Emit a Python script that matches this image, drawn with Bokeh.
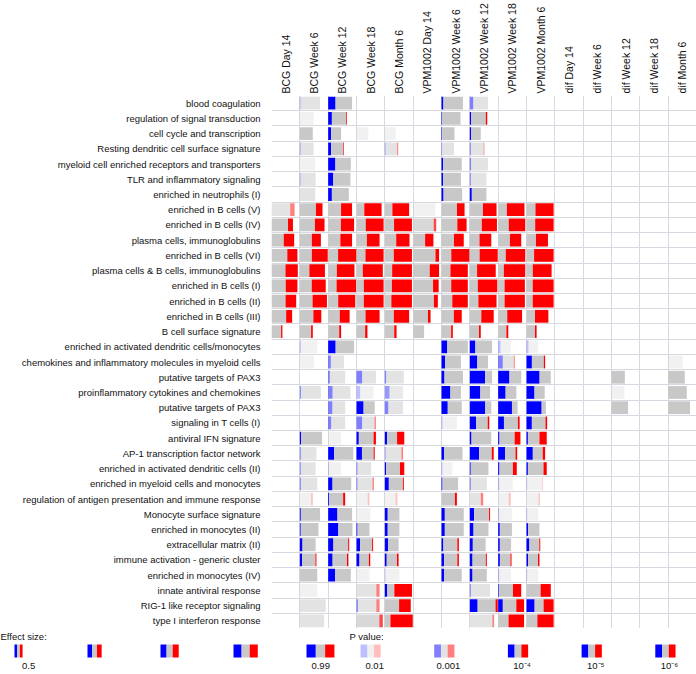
import math
from bokeh.plotting import figure
from bokeh.models import FixedTicker, Range1d, ColumnDataSource
from bokeh.embed import file_html
from bokeh.resources import INLINE
from bokeh.core.properties import value

_ = None

CONTRASTS = ["BCG Day 14", "BCG Week 6", "BCG Week 12", "BCG Week 18", "BCG Month 6",
             "VPM1002 Day 14", "VPM1002 Week 6", "VPM1002 Week 12", "VPM1002 Week 18",
             "VPM1002 Month 6", "dif Day 14", "dif Week 6", "dif Week 12", "dif Week 18",
             "dif Month 6"]

MODULES = [
    "blood coagulation",
    "regulation of signal transduction",
    "cell cycle and transcription",
    "Resting dendritic cell surface signature",
    "myeloid cell enriched receptors and transporters",
    "TLR and inflammatory signaling",
    "enriched in neutrophils (I)",
    "enriched in B cells (V)",
    "enriched in B cells (IV)",
    "plasma cells, immunoglobulins",
    "enriched in B cells (VI)",
    "plasma cells & B cells, immunoglobulins",
    "enriched in B cells (I)",
    "enriched in B cells (II)",
    "enriched in B cells (III)",
    "B cell surface signature",
    "enriched in activated dendritic cells/monocytes",
    "chemokines and inflammatory molecules in myeloid cells",
    "putative targets of PAX3",
    "proinflammatory cytokines and chemokines",
    "putative targets of PAX3",
    "signaling in T cells (I)",
    "antiviral IFN signature",
    "AP-1 transcription factor network",
    "enriched in activated dendritic cells (II)",
    "enriched in myeloid cells and monocytes",
    "regulation of antigen presentation and immune response",
    "Monocyte surface signature",
    "enriched in monocytes (II)",
    "extracellular matrix (II)",
    "immune activation - generic cluster",
    "enriched in monocytes (IV)",
    "innate antiviral response",
    "RIG-1 like receptor signaling",
    "type I interferon response",
]

# effect size (AUC) per module (rows) and contrast (columns); None = not shown
AUC = [
    [_, .80, .89, _, _, _, .83, .75],
    [_, .64, .76, _, _, _, .77, .73],
    [_, .62, .62, .59, .57, _, .62, .57],
    [_, .64, .69, _, .63, _, .61, .66],
    [_, .68, .86, _, _, _, .80, .75],
    [_, .69, .85, _, _, _, .78, .71],
    [_, .68, .81, _, _, _, .81, .71],
    [.87, .86, .89, .92, .90, .85, .87, .96, .95, .97],
    [.83, .91, .94, .97, .97, .87, .92, .97, .97, .97],
    [.86, .82, .89, .87, .91, .80, .85, .83, .87, .83],
    [.94, .99, 1.0, .97, .97, .94, .99, .99, .97, .97],
    [.95, .92, .95, .95, .97, .94, .95, .94, .97, .92],
    [.94, .94, .99, .97, .97, .93, .95, .98, .96, .97],
    [.91, .97, .97, .97, .97, .91, .95, .96, .96, .97],
    [.81, .83, .83, .87, .90, .73, .80, .89, .89, .84],
    [.57, .62, .62, .57, .59, .57, .58, .57, .55, .55],
    [_, .73, .94, _, _, _, .95, .85, .61, .58],
    [_, .65, .69, _, _, _, .78, .75, .71, .76, _, _, _, _, .66],
    [_, _, .72, .78, .77, _, .83, .85, .87, .90, _, _, .63, _, .71],
    [_, .82, .85, .72, .75, _, .78, .80, .75, .75, _, _, .62, _, .76],
    [_, _, .72, .75, .75, _, .80, .83, .78, .78, _, _, .71, _, .84],
    [_, _, .72, .78, _, _, .68, .78, .83, .81],
    [_, .85, .62, .78, .78, _, _, .83, .85, .80],
    [_, .71, .92, .75, .75, _, .82, .89, .77, .76],
    [_, .69, .62, .66, .78, _, .57, .76, .76, .80],
    [_, .73, .87, .73, .77, _, .71, .72, .66, .71],
    [_, .62, .72, .62, .61, _, .68, .63, .61, .63],
    [_, .80, .89, .64, .66, _, .85, .80, .64, .59],
    [_, .76, .90, .62, .66, _, .85, .76, .64, .62],
    [_, .69, .82, .71, .64, _, .73, .69, .62, .64],
    [_, .71, .80, .64, .64, _, .73, .72, .63, .62],
    [_, .73, .86, .62, .66, _, .80, .72, .62, .59],
    [_, .73, _, .87, .97, _, _, .80, .87, .90],
    [_, .94, _, .87, .94, _, _, .99, .94, .97],
    [_, .90, _, .95, .99, _, _, .90, .94, .97],
]

# fraction of module genes that are down-regulated
DOWN = [
    [0, .03, .31, 0, 0, 0, .09, .19],
    [0, 0, .20, 0, 0, 0, .04, .08],
    [0, 0, .23, 0, 0, 0, .05, .13],
    [0, .05, .19, 0, .05, 0, .05, .07],
    [0, 0, .32, 0, 0, 0, .08, .07],
    [0, .04, .23, 0, 0, 0, .08, .06],
    [0, 0, .18, 0, 0, 0, .10, .12],
    [], [], [], [], [], [], [], [], [],
    [0, .06, .29, 0, 0, 0, .22, .25, .19, .18],
    [0, 0, .17, 0, 0, 0, .19, .41, .28, .29],
    [0, 0, .10, .29, .07, 0, .14, .69, .49, .54],
    [0, .05, .20, .22, .26, 0, .46, .52, .41, .44],
    [0, 0, .25, .39, .19, 0, .31, .72, .71, .78],
    [0, 0, .18, .29, 0, 0, .07, .32, .27, .26],
    [0, .06, 0, .12, .12, 0, 0, .08, .06, .07],
    [0, .06, .24, .30, .04, 0, .13, .39, .37, .34],
    [0, .06, .05, .07, .07, 0, .09, .05, .07, .07],
    [0, .06, .19, .06, .21, 0, .06, .06, .07, .04],
    [0, 0, .06, 0, 0, 0, 0, 0, 0, 0],
    [0, .05, .39, 0, .20, 0, .15, .21, .07, .06],
    [0, .05, .42, .08, .20, 0, .15, .20, .12, .13],
    [0, .17, .25, .22, .24, 0, .11, .19, .13, .21],
    [0, .14, .22, .22, .14, 0, .15, .16, .13, .13],
    [0, 0, .31, 0, .05, 0, .13, .16, .08, .06],
    [0, 0, 0, 0, .09, 0, 0, .05, .03, 0],
    [0, 0, 0, .06, 0, 0, 0, .28, .18, .30],
    [],
]

# fraction of module genes that are up-regulated
UP = [
    [],
    [0, 0, .04, 0, 0, 0, 0, .08],
    [],
    [0, 0, .04, 0, .08, 0, 0, .05],
    [], [], [],
    [.19, .29, .46, .69, .69, 0, .33, .51, .67, .67],
    [.23, .39, .51, .66, .66, .11, .37, .56, .61, .68],
    [.46, .43, .49, .55, .54, .41, .44, .55, .49, .56],
    [.39, .57, .65, .67, .67, .14, .65, .65, .72, .72],
    [.47, .62, .67, .76, .73, .36, .66, .72, .79, .75],
    [.45, .54, .70, .73, .74, .22, .63, .71, .76, .77],
    [.43, .53, .63, .73, .76, .16, .59, .68, .76, .77],
    [.29, .37, .46, .61, .63, .15, .39, .52, .62, .61],
    [.12, .13, .15, .21, .20, 0, .15, .16, .19, .16],
    [],
    [0, 0, 0, 0, 0, 0, 0, 0, .06, .07],
    [], [], [],
    [0, 0, 0, .07, 0, 0, 0, .08, .08, .08],
    [0, 0, 0, .12, .37, 0, 0, 0, .26, .36],
    [0, 0, 0, .06, .09, 0, 0, .08, .09, .13],
    [0, 0, 0, 0, .22, 0, 0, 0, .21, .16],
    [0, 0, 0, .08, .05, 0, 0, 0, 0, .04],
    [0, .13, .12, .13, .14, 0, .13, .18, .16, .10],
    [0, 0, 0, 0, 0, 0, 0, .05, 0, 0],
    [],
    [0, 0, .05, .06, 0, 0, .09, 0, 0, .07],
    [0, .06, .07, .10, .12, 0, .09, .06, .08, .11],
    [],
    [0, 0, 0, .14, .65, 0, 0, 0, .36, .42],
    [0, 0, 0, .14, .45, 0, 0, .08, .30, .37],
    [0, 0, 0, .13, .80, 0, 0, .07, .60, .60],
]

# p values
PVAL = [
    [_, 1e-3, 1e-5, _, _, _, 1e-5, 1e-3],
    [_, 1e-2, 1e-5, _, _, _, 1e-5, 1e-5],
    [_, 1e-5, 1e-5, 1e-2, 1e-2, _, 1e-5, 1e-5],
    [_, 1e-3, 1e-5, _, 1e-3, _, 1e-3, 1e-3],
    [_, 1e-2, 1e-5, _, _, _, 1e-5, 1e-3],
    [_, 1e-3, 1e-5, _, _, _, 1e-5, 1e-3],
    [_, 1e-3, 1e-5, _, _, _, 1e-5, 1e-5],
    [1e-3, 1e-5, 1e-5, 1e-5, 1e-5, 1e-2, 1e-5, 1e-5, 1e-5, 1e-5],
    [1e-4, 1e-5, 1e-5, 1e-5, 1e-5, 3e-4, 1e-5, 1e-5, 1e-5, 1e-5],
    [1e-5] * 10, [1e-5] * 10, [1e-5] * 10, [1e-5] * 10, [1e-5] * 10, [1e-5] * 10, [1e-5] * 10,
    [_, 1e-2, 1e-5, _, _, _, 1e-5, 1e-5, 1e-2, 1e-2],
    [_, 1e-2, 1e-3, _, _, _, 1e-5, 1e-5, 1e-3, 1e-5, _, _, _, _, 1e-2],
    [_, _, 1e-3, 1e-3, 1e-3, _, 1e-5, 1e-5, 1e-5, 1e-5, _, _, 1e-5, _, 1e-5],
    [_, 1e-3, 1e-3, 1e-2, 2e-3, _, 1e-5, 1e-5, 1e-5, 1e-5, _, _, 1e-2, _, 1e-5],
    [_, _, 1e-3, 1e-5, 1e-3, _, 1e-5, 1e-5, 1e-5, 1e-5, _, _, 1e-5, _, 1e-5],
    [_, _, 1e-3, 1e-3, _, _, 1e-2, 1e-5, 1e-5, 1e-5],
    [_, 1e-5, 1e-2, 1e-5, 1e-5, _, _, 1e-5, 1e-5, 1e-5],
    [_, 1e-3, 1e-5, 1e-5, 1e-3, _, 1e-5, 1e-5, 1e-5, 1e-5],
    [_, 1e-3, 1e-2, 1e-3, 1e-5, _, 1e-2, 1e-5, 1e-5, 1e-5],
    [_, 1e-3, 1e-5, 1e-3, 1e-5, _, 1e-5, 1e-3, 1e-2, 1e-2],
    [_, 1e-2, 1e-5, 1e-2, 1e-2, _, 1e-5, 1e-3, 1e-2, 1e-2],
    [_, 1e-5, 1e-5, 1e-2, 1e-5, _, 1e-5, 1e-5, 1e-2, 1e-2],
    [_, 1e-5, 1e-5, 1e-5, 1e-5, _, 1e-5, 1e-5, 1e-5, 1e-5],
    [_, 1e-5, 1e-5, 1e-5, 1e-5, _, 1e-5, 1e-5, 1e-5, 1e-5],
    [_, 1e-5, 1e-5, 1e-5, 1e-5, _, 1e-5, 1e-5, 1e-5, 1e-5],
    [_, 1e-5, 1e-5, 1e-2, 1e-2, _, 1e-5, 1e-5, 1e-2, 1e-2],
    [_, 1e-2, _, 1e-3, 1e-5, _, _, 1e-3, 1e-4, 1e-5],
    [_, 1e-3, _, 1e-3, 1e-5, _, _, 1e-5, 1e-5, 1e-5],
    [_, 1e-3, _, 3e-4, 1e-5, _, _, 1e-3, 1e-5, 1e-5],
]

LEGEND_AUC = [0.5, 0.65, 0.75, 0.9, 0.99]
LEGEND_AUC_LABELS = ["0.5", "", "", "", "0.99"]
LEGEND_P = [1e-2, 1e-3, 1e-4, 1e-5, 1e-6]
LEGEND_P_LABELS = ["0.01", "0.001", "10\u207b\u2074", "10\u207b\u2075", "10\u207b\u2076"]

# ---------------------------------------------------------------- styling
BLUE, GRAY, RED = "#0000ff", "#c8c8c8", "#ff0000"
FONT = "Liberation Sans"
GRID = "#d8d8e0"
BAR_H = 0.84
FIG_W = 696
LEFT = 271


def cell(table, r, c):
    row = table[r]
    return row[c] if c < len(row) else None


def bar_frac(auc):
    return (auc - 0.3) / 0.7


def alpha_of(p):
    return min(1.0, 2 ** (-math.log10(p) - 4))


n_rows, n_cols = len(MODULES), len(CONTRASTS)

src = dict(left=[], right=[], top=[], bottom=[], color=[], alpha=[])
for r in range(n_rows):
    for c in range(n_cols):
        auc = cell(AUC, r, c)
        if auc is None:
            continue
        d = cell(DOWN, r, c) or 0.0
        u = cell(UP, r, c) or 0.0
        pv = cell(PVAL, r, c) or 1e-5
        f = bar_frac(auc)
        x0 = c - 0.5
        cuts = [x0, x0 + f * d, x0 + f * (1 - u), x0 + f]
        for a, b, col in zip(cuts[:-1], cuts[1:], (BLUE, GRAY, RED)):
            if b - a > 1e-6:
                src["left"].append(a)
                src["right"].append(b)
                src["top"].append(r - BAR_H / 2)
                src["bottom"].append(r + BAR_H / 2)
                src["color"].append(col)
                src["alpha"].append(alpha_of(pv))

p = figure(width=FIG_W, height=628, output_backend="svg", toolbar_location=None,
           x_range=Range1d(-0.5, n_cols - 0.5), y_range=Range1d(n_rows - 0.5, -0.5),
           x_axis_location="above", min_border_left=LEFT, min_border_right=0,
           min_border_top=0, min_border_bottom=0)
p.outline_line_color = None
p.background_fill_color = "white"

p.quad(left="left", right="right", top="top", bottom="bottom", fill_color="color",
       fill_alpha="alpha", line_color=None, source=ColumnDataSource(src))

p.xaxis.ticker = FixedTicker(ticks=list(range(n_cols)))
p.xaxis.major_label_overrides = {i: n for i, n in enumerate(CONTRASTS)}
p.xaxis.major_label_orientation = math.pi / 2
p.yaxis.ticker = FixedTicker(ticks=list(range(n_rows)))
p.yaxis.major_label_overrides = {i: n for i, n in enumerate(MODULES)}
for ax in (p.xaxis, p.yaxis):
    ax.axis_line_color = None
    ax.major_tick_line_color = None
    ax.minor_tick_line_color = None
    ax.major_tick_out = 0
    ax.major_tick_in = 0
    ax.major_label_text_font = FONT
    ax.major_label_text_color = "#111111"
p.xaxis.major_label_text_font_size = "10.5px"
p.xaxis.major_label_standoff = 2
p.yaxis.major_label_text_font_size = "9.5px"
p.yaxis.major_label_standoff = 11

p.xgrid.ticker = FixedTicker(ticks=[c - 0.5 for c in range(n_cols + 1)])
p.ygrid.ticker = FixedTicker(ticks=[r - 0.5 for r in range(n_rows + 1)])
p.grid.grid_line_color = GRID
p.grid.grid_line_width = 1

# ---------------------------------------------------------------- legend
LEG_H = 45
CELL_PX = (FIG_W - LEFT) / n_cols
q = figure(width=FIG_W, height=LEG_H, output_backend="svg", toolbar_location=None,
           x_range=Range1d(0, FIG_W), y_range=Range1d(LEG_H, 0),
           min_border=0)
q.axis.visible = False
q.grid.visible = False
q.outline_line_color = None

leg = dict(left=[], right=[], top=[], bottom=[], color=[], alpha=[])
lab = dict(x=[], y=[], text=[])
BOX_TOP, BOX_BOT, LAB_Y = 16, 29, 37


def add_box(x0, auc, pval, label):
    w = bar_frac(auc) * CELL_PX
    cuts = [x0, x0 + w / 3, x0 + 2 * w / 3, x0 + w]
    for a, b, col in zip(cuts[:-1], cuts[1:], (BLUE, GRAY, RED)):
        leg["left"].append(a)
        leg["right"].append(b)
        leg["top"].append(BOX_TOP)
        leg["bottom"].append(BOX_BOT)
        leg["color"].append(col)
        leg["alpha"].append(alpha_of(pval))
    if label:
        lab["x"].append(x0 + CELL_PX / 2)
        lab["y"].append(LAB_Y)
        lab["text"].append(label)


for k, (a, t) in enumerate(zip(LEGEND_AUC, LEGEND_AUC_LABELS)):
    add_box(14 + 73 * k, a, 1e-6, t)
for k, (pv, t) in enumerate(zip(LEGEND_P, LEGEND_P_LABELS)):
    add_box(360 + 73.7 * k, 0.8, pv, t)

q.quad(left="left", right="right", top="top", bottom="bottom", fill_color="color",
       fill_alpha="alpha", line_color=None, source=ColumnDataSource(leg))
q.text(x="x", y="y", text="text", source=ColumnDataSource(lab), text_align="center",
       text_baseline="middle", text_font=value(FONT), text_font_size="9.5px",
       text_color="#111111")
q.text(x=[0, 349], y=[8, 8], text=["Effect size:", "P value:"], text_align="left",
       text_baseline="middle", text_font=value(FONT), text_font_size="9.5px",
       text_color="#111111")

open("out.html", "w").write(file_html([p, q], INLINE))
